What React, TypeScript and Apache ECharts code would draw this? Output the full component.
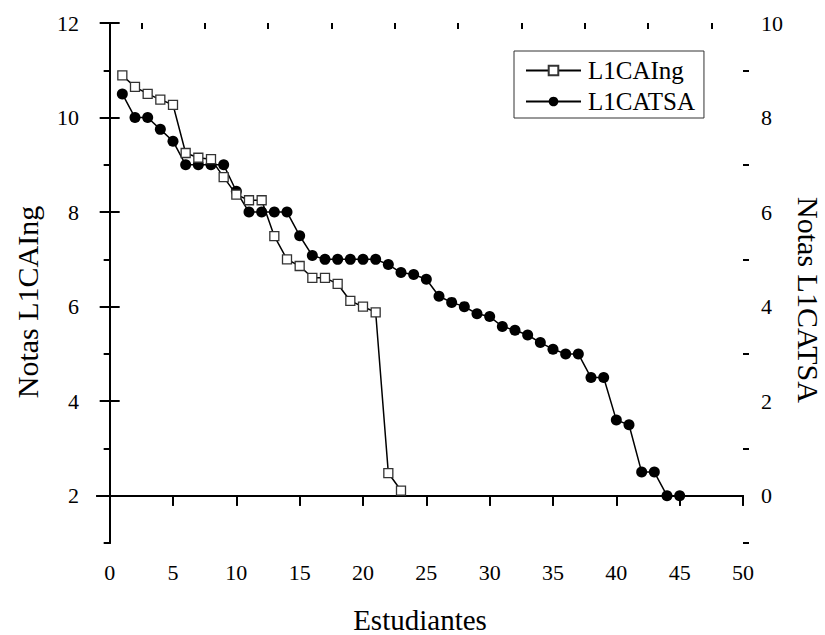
import React, { useEffect, useRef } from "react";
import * as echarts from "echarts";

const students = [
  1, 2, 3, 4, 5, 6, 7, 8, 9, 10, 11, 12, 13, 14, 15, 16, 17, 18, 19, 20, 21, 22, 23,
  24, 25, 26, 27, 28, 29, 30, 31, 32, 33, 34, 35, 36, 37, 38, 39, 40, 41, 42, 43, 44, 45,
];
const ingScores = [
  10.89, 10.65, 10.5, 10.38, 10.27, 9.25, 9.15, 9.12, 8.74, 8.37, 8.25, 8.25, 7.49, 7.0,
  6.86, 6.61, 6.61, 6.48, 6.12, 6.0, 5.88, 2.48, 2.11,
];
const tsaScores = [
  8.5, 8.0, 8.0, 7.75, 7.5, 7.0, 7.0, 7.0, 7.0, 6.44, 6.0, 6.0, 6.0, 6.0, 5.5, 5.08, 5.0,
  5.0, 5.0, 5.0, 5.0, 4.89, 4.72, 4.68, 4.58, 4.22, 4.09, 4.0, 3.85, 3.79, 3.58, 3.5, 3.4,
  3.24, 3.1, 3.0, 3.0, 2.5, 2.5, 1.6, 1.5, 0.5, 0.5, 0.0, 0.0,
];
const xMajorTicks = [0, 5, 10, 15, 20, 25, 30, 35, 40, 45, 50];
const xMinorTicks = [2.5, 7.5, 12.5, 17.5, 22.5, 27.5, 32.5, 37.5, 42.5, 47.5];
const leftMajorTicks = [2, 4, 6, 8, 10, 12];
const leftMinorTicks = [1, 3, 5, 7, 9, 11];
const rightMajorTicks = [0, 2, 4, 6, 8, 10];
const rightMinorTicks = [-1, 1, 3, 5, 7, 9];

const FONT = "Liberation Serif";

export default function App() {
  const ref = useRef<HTMLDivElement>(null);
  useEffect(() => {
    if (!ref.current) return;
    const chart = echarts.init(ref.current, null, { renderer: "svg" });
    const axisLine = { show: true, lineStyle: { color: "#000", width: 2 } };
    const label = { color: "#000", fontSize: 22, fontFamily: FONT, margin: 18 };
    const tickStyle = { color: "#000", width: 2 };
    chart.setOption({
      animation: false,
      backgroundColor: "#fff",
      textStyle: { fontFamily: FONT },
      grid: { left: 97, right: 82, top: 23, bottom: 92, outerBoundsMode: "none", containLabel: false },
      legend: {
        orient: "vertical",
        left: 514,
        top: 51,
        padding: [7, 9, 4, 11],
        itemWidth: 55,
        itemHeight: 12,
        itemGap: 6,
        borderColor: "#333",
        borderWidth: 1,
        textStyle: { color: "#000", fontSize: 25, fontFamily: FONT, padding: [0, 0, 0, 2] },
        data: ["L1CAIng", "L1CATSA"],
      },
      xAxis: [
        {
          type: "value", position: "bottom", min: -1, max: 50, axisLine, splitLine: { show: false },
          name: "Estudiantes", nameLocation: "middle", nameGap: 62,
          nameTextStyle: { color: "#000", fontSize: 29, fontFamily: FONT },
          axisTick: { show: true, inside: false, length: 10, lineStyle: tickStyle, customValues: xMajorTicks },
          axisLabel: { ...label, customValues: xMajorTicks },
        },
        {
          type: "value", position: "top", min: -1, max: 50, axisLine, splitLine: { show: false },
          axisTick: { show: true, inside: true, length: 10, lineStyle: tickStyle, customValues: xMajorTicks },
          axisLabel: { show: false },
        },
        {
          type: "value", position: "top", min: -1, max: 50, axisLine: { show: false }, splitLine: { show: false },
          axisTick: { show: true, inside: true, length: 6, lineStyle: tickStyle, customValues: xMinorTicks },
          axisLabel: { show: false },
        },
      ],
      yAxis: [
        {
          type: "value", position: "left", min: 1, max: 12, axisLine, splitLine: { show: false },
          name: "Notas L1CAIng", nameLocation: "middle", nameGap: 55,
          nameTextStyle: { color: "#000", fontSize: 30, fontFamily: FONT, padding: [0, 38, 0, 0] },
          axisTick: { show: true, inside: false, length: 10, lineStyle: tickStyle, customValues: leftMajorTicks },
          axisLabel: { ...label, customValues: leftMajorTicks },
        },
        {
          type: "value", position: "left", min: 1, max: 12, axisLine: { show: false }, splitLine: { show: false },
          axisTick: { show: true, inside: false, length: 6, lineStyle: tickStyle, customValues: leftMinorTicks },
          axisLabel: { show: false },
        },
        {
          type: "value", position: "right", min: -1, max: 10, axisLine, splitLine: { show: false },
          name: "Notas L1CATSA", nameLocation: "middle", nameGap: 42, nameRotate: -90,
          nameTextStyle: { color: "#000", fontSize: 30, fontFamily: FONT, padding: [0, 0, 0, 34] },
          axisTick: { show: true, inside: false, length: 10, lineStyle: tickStyle, customValues: rightMajorTicks },
          axisLabel: { ...label, customValues: rightMajorTicks },
        },
        {
          type: "value", position: "right", min: -1, max: 10, axisLine: { show: false }, splitLine: { show: false },
          axisTick: { show: true, inside: false, length: 6, lineStyle: tickStyle, customValues: rightMinorTicks },
          axisLabel: { show: false },
        },
      ],
      series: [
        {
          name: "L1CAIng", type: "line", xAxisIndex: 0, yAxisIndex: 0,
          data: ingScores.map((v, i) => [students[i], v]),
          symbol: "rect", symbolSize: 9,
          lineStyle: { color: "#000", width: 1.5 },
          itemStyle: { color: "#fff", borderColor: "#333", borderWidth: 1.3 },
          z: 3,
        },
        {
          name: "L1CATSA", type: "line", xAxisIndex: 0, yAxisIndex: 2,
          data: tsaScores.map((v, i) => [students[i], v]),
          symbol: "circle", symbolSize: 11,
          lineStyle: { color: "#000", width: 1.5 },
          itemStyle: { color: "#000" },
          z: 2,
        },
      ],
    });
    return () => chart.dispose();
  }, []);
  return (
    <div
      ref={ref}
      style={{ position: "fixed", left: 0, top: 0, width: 825, height: 635, background: "#fff" }}
    />
  );
}
